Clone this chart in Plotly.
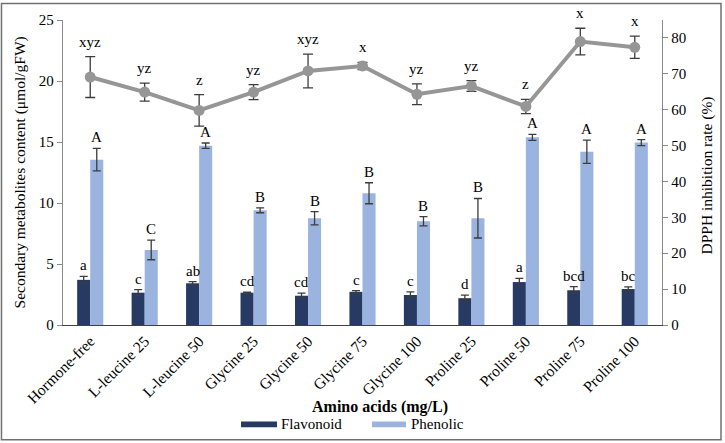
import plotly.graph_objects as go

categories = ["Hormone-free", "L-leucine 25", "L-leucine 50", "Glycine 25", "Glycine 50",
              "Glycine 75", "Glycine 100", "Proline 25", "Proline 50", "Proline 75", "Proline 100"]

flavonoid = [3.7, 2.65, 3.42, 2.65, 2.4, 2.72, 2.46, 2.2, 3.52, 2.85, 2.95]
flavonoid_err = [0.28, 0.25, 0.13, 0.05, 0.22, 0.1, 0.25, 0.25, 0.3, 0.3, 0.18]
flavonoid_lbl = ["a", "c", "ab", "cd", "cd", "c", "c", "d", "a", "bcd", "bc"]

phenolic = [13.55, 6.15, 14.7, 9.4, 8.75, 10.8, 8.5, 8.75, 15.38, 14.2, 14.95]
phenolic_err = [0.92, 0.8, 0.22, 0.2, 0.55, 0.86, 0.38, 1.62, 0.25, 0.95, 0.25]
phenolic_lbl = ["A", "C", "A", "B", "B", "B", "B", "B", "A", "A", "A"]

dpph = [69.1, 64.9, 59.8, 64.9, 70.8, 72.2, 64.3, 66.6, 60.9, 79.0, 77.4]
dpph_err = [5.7, 2.5, 4.4, 2.1, 4.7, 1.0, 2.9, 1.5, 2.0, 3.7, 3.1]
dpph_lbl = ["xyz", "yz", "z", "yz", "xyz", "x", "yz", "yz", "z", "x", "x"]

FONT = "Liberation Serif, Times New Roman, serif"
DARK = "#263a64"
LIGHT = "#9bb3df"
GRAY = "#969696"
ERR = "#3c3c3c"

fig = go.Figure()
fig.add_trace(go.Bar(x=categories, y=flavonoid, name="Flavonoid", marker_color=DARK,
                     marker_line_width=0,
                     error_y=dict(type="data", array=flavonoid_err, color=ERR, thickness=1.3, width=4)))
fig.add_trace(go.Bar(x=categories, y=phenolic, name="Phenolic", marker_color=LIGHT,
                     marker_line_width=0,
                     error_y=dict(type="data", array=phenolic_err, color=ERR, thickness=1.3, width=4)))
fig.add_trace(go.Scatter(x=categories, y=dpph, yaxis="y2", mode="lines+markers", name="DPPH",
                         line=dict(color=GRAY, width=4), marker=dict(color=GRAY, size=11),
                         error_y=dict(type="data", array=dpph_err, color=ERR, thickness=1.3, width=5)))

ann = []
for c, v, e, t in zip(categories, flavonoid, flavonoid_err, flavonoid_lbl):
    ann.append(dict(x=c, y=v + e, xref="x", yref="y", text=t, showarrow=False,
                    yanchor="bottom", xshift=-6.5, yshift=1, font=dict(size=15, color="black", family=FONT)))
for c, v, e, t in zip(categories, phenolic, phenolic_err, phenolic_lbl):
    ann.append(dict(x=c, y=v + e, xref="x", yref="y", text=t, showarrow=False,
                    yanchor="bottom", xshift=6.5, yshift=1, font=dict(size=15, color="black", family=FONT)))
for c, v, e, t in zip(categories, dpph, dpph_err, dpph_lbl):
    ann.append(dict(x=c, y=v + e, xref="x", yref="y2", text=t, showarrow=False,
                    yanchor="bottom", yshift=5, font=dict(size=15, color="black", family=FONT)))

# axis titles
ann.append(dict(x=-0.0718, y=0.5, xref="paper", yref="paper", text="Secondary metabolites content (μmol/gFW)",
                textangle=-90, showarrow=False, xanchor="center", yanchor="middle",
                font=dict(size=15.5, color="black", family=FONT)))
ann.append(dict(x=1.0751, y=0.49, xref="paper", yref="paper", text="DPPH inhibition rate (%)",
                textangle=-90, showarrow=False, xanchor="center", yanchor="middle",
                font=dict(size=15.5, color="black", family=FONT)))
ann.append(dict(x=0.529, y=-0.270, xref="paper", yref="paper", text="<b>Amino acids (mg/L)</b>",
                showarrow=False, xanchor="center", yanchor="middle",
                font=dict(size=16, color="black", family=FONT)))
# legend text
ann.append(dict(x=0.3606, y=-0.3257, xref="paper", yref="paper", text="Flavonoid",
                showarrow=False, xanchor="left", yanchor="middle",
                font=dict(size=15, color="black", family=FONT)))
ann.append(dict(x=0.5776, y=-0.3257, xref="paper", yref="paper", text="Phenolic",
                showarrow=False, xanchor="left", yanchor="middle",
                font=dict(size=15, color="black", family=FONT)))

shapes = [
    dict(type="rect", xref="paper", yref="paper", x0=0.2972, x1=0.3573, y0=-0.3355, y1=-0.316,
         fillcolor=DARK, line_width=0),
    dict(type="rect", xref="paper", yref="paper", x0=0.5159, x1=0.5726, y0=-0.3355, y1=-0.316,
         fillcolor=LIGHT, line_width=0),
    dict(type="rect", xref="paper", yref="paper", x0=-0.1027, x1=1.0985, y0=-0.3762, y1=1.0537,
         line=dict(color="#707070", width=1.5), fillcolor="rgba(0,0,0,0)"),
]

fig.update_layout(
    width=725, height=443,
    margin=dict(l=63, r=63, t=18, b=118),
    paper_bgcolor="white", plot_bgcolor="white",
    barmode="group", bargap=0.52, bargroupgap=0,
    showlegend=False,
    font=dict(family=FONT, size=15, color="black"),
    xaxis=dict(type="category", categoryorder="array", categoryarray=categories,
               tickangle=-45, showline=True, linecolor="#404040", linewidth=1.3,
               ticks="", showgrid=False, tickfont=dict(size=15.5, family=FONT, color="black"),
               range=[-0.5, 10.5]),
    yaxis=dict(range=[0, 25], dtick=5, showline=True, linecolor="#8a8a8a", linewidth=1.3,
               ticks="outside", ticklen=5, tickcolor="#8a8a8a", showgrid=False, zeroline=False,
               tickfont=dict(size=15, family=FONT, color="black")),
    yaxis2=dict(range=[0, 85], dtick=10, overlaying="y", side="right", showline=True,
                linecolor="#8a8a8a", linewidth=1.3, ticks="outside", ticklen=5, tickcolor="#8a8a8a",
                showgrid=False, zeroline=False, tickfont=dict(size=15, family=FONT, color="black")),
    annotations=ann,
    shapes=shapes,
)

fig.write_html("out.html", config={"displayModeBar": False},
               post_script="document.body.style.margin='0px';document.body.style.overflow='hidden';")
